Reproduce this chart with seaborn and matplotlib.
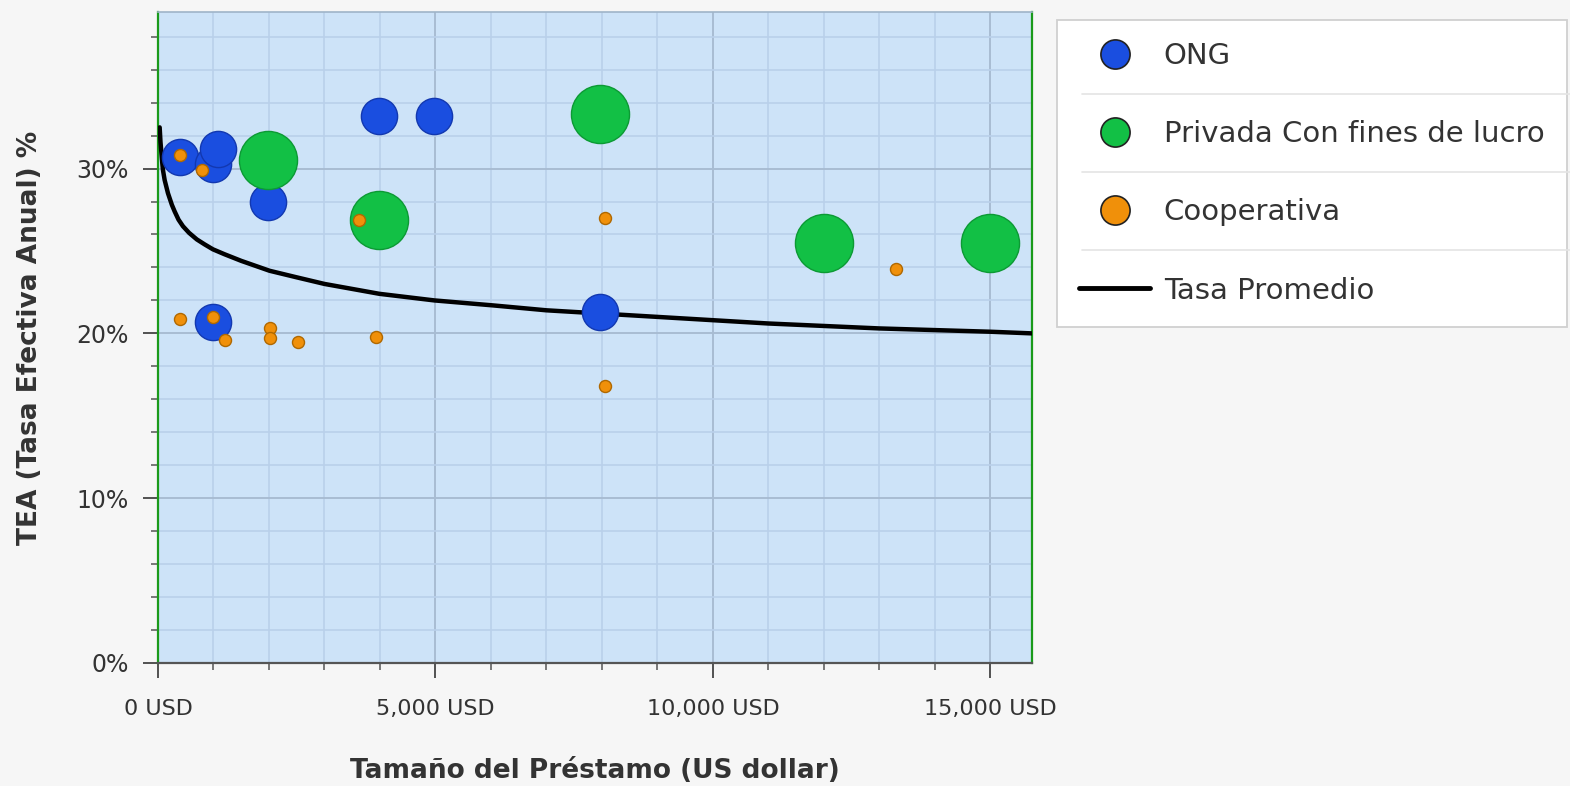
import matplotlib
matplotlib.use("Agg")
import matplotlib.pyplot as plt
import seaborn as sns
from matplotlib.ticker import MultipleLocator, FuncFormatter
from matplotlib.lines import Line2D

# ---------------------- DATA ----------------------
ong_x = [390, 990, 1080, 1980, 3990, 4980, 990, 7970]
ong_y = [30.7, 30.3, 31.2, 28.0, 33.2, 33.2, 20.7, 21.3]

privada_x = [1980, 3990, 7970, 12000, 15000]
privada_y = [30.5, 26.9, 33.3, 25.5, 25.5]

coop_x = [390, 790, 3630, 390, 1000, 1200, 2010, 2010, 2520, 3930, 8050, 8050, 13300]
coop_y = [30.8, 29.9, 26.9, 20.9, 21.0, 19.6, 20.3, 19.7, 19.5, 19.8, 27.0, 16.8, 23.9]

tasa_x = [30, 45, 60, 75, 90, 120, 150, 180, 210, 250, 300, 370, 450, 560, 700, 840, 990,
          1200, 1500, 2010, 2500, 3000, 3990, 4980, 6030, 7000, 8000, 9000, 10000,
          11000, 12000, 13000, 14000, 15000, 15750]
tasa_y = [32.5, 31.6, 31.0, 30.4, 29.9, 29.3, 28.9, 28.5, 28.2, 27.8, 27.4, 26.9, 26.5,
          26.1, 25.7, 25.4, 25.1, 24.8, 24.4, 23.8, 23.4, 23.0, 22.4, 22.0, 21.7, 21.4,
          21.2, 21.0, 20.8, 20.6, 20.45, 20.3, 20.2, 20.1, 20.0]

labels = ["ONG", "Privada Con fines de lucro", "Cooperativa", "Tasa Promedio"]
colors = ["#1a4ee0", "#12c045", "#f0900a", "#000000"]
edges = ["#1238b0", "#0c9a34", "#b06800"]

# ---------------------- PLOT ----------------------
sns.set_theme(style="white")
plt.rcParams["font.family"] = ["DejaVu Sans"]

fig = plt.figure(figsize=(15.7, 7.86), dpi=100, facecolor="#f6f6f6")
ax = fig.add_axes([158 / 1570, 1 - 663 / 786, (1032 - 158) / 1570, (663 - 12) / 786])
ax.set_facecolor("#cde3f8")

sns.lineplot(x=tasa_x, y=tasa_y, ax=ax, color="black", linewidth=3.2, zorder=3)

sns.scatterplot(x=ong_x, y=ong_y, ax=ax, s=680, color=colors[0],
                edgecolor=edges[0], linewidth=1, zorder=4)
sns.scatterplot(x=privada_x, y=privada_y, ax=ax, s=1750, color=colors[1],
                edgecolor=edges[1], linewidth=1, zorder=5)
sns.scatterplot(x=coop_x, y=coop_y, ax=ax, s=75, color=colors[2],
                edgecolor=edges[2], linewidth=1, zorder=6)

ax.set_xlim(0, 15750)
ax.set_ylim(0, 39.5)

ax.xaxis.set_major_locator(MultipleLocator(5000))
ax.xaxis.set_minor_locator(MultipleLocator(1000))
ax.yaxis.set_major_locator(MultipleLocator(10))
ax.yaxis.set_minor_locator(MultipleLocator(2))
ax.xaxis.set_major_formatter(FuncFormatter(lambda v, p: f"{int(v):,} USD"))
ax.yaxis.set_major_formatter(FuncFormatter(lambda v, p: f"{int(v)}%"))

ax.grid(which="major", color="#a8bcd2", linewidth=1.4, zorder=0)
ax.grid(which="minor", color="#b9d0ea", linewidth=1.2, zorder=0)
ax.set_axisbelow(True)

ax.tick_params(which="major", direction="out", length=11, width=1.3, color="#444444",
               labelsize=16, labelcolor="#333333", left=True, bottom=True)
ax.tick_params(axis="y", which="major", labelsize=17, pad=10)
ax.tick_params(axis="x", which="major", pad=15)
ax.tick_params(which="minor", direction="out", length=5, width=1.1, color="#555555",
               left=True, bottom=True)

for side in ["left", "right"]:
    ax.spines[side].set_color("#1a9a1a")
    ax.spines[side].set_linewidth(1.6)
ax.spines["top"].set_color("#9fb4c8")
ax.spines["top"].set_linewidth(1.2)
ax.spines["bottom"].set_color("#555555")
ax.spines["bottom"].set_linewidth(1.6)

ax.set_xlabel("Tamaño del Préstamo (US dollar)", fontsize=19, fontweight="bold",
              color="#333333", labelpad=28)
ax.set_ylabel("TEA (Tasa Efectiva Anual) %", fontsize=19, fontweight="bold",
              color="#333333", labelpad=24)

# ---------------------- LEGEND ----------------------
handles = [
    Line2D([], [], marker="o", linestyle="none", markersize=21,
           markerfacecolor=c, markeredgecolor="#222222", markeredgewidth=1.2)
    for c in colors[:3]
]
handles.append(Line2D([], [], color="black", linewidth=3.5))
leg = fig.legend(handles, labels, loc="upper left",
                 bbox_to_anchor=(1057 / 1570, 1 - 20 / 786), borderaxespad=0,
                 fontsize=21, frameon=True, fancybox=False, edgecolor="#d0d0d0",
                 facecolor="white", framealpha=1, labelspacing=1.72,
                 handlelength=2.43, handletextpad=0.47, borderpad=0.76,
                 labelcolor="#333333")
leg.get_frame().set_linewidth(1.3)

# separators between legend rows
for yy in [94, 172, 250]:
    fig.add_artist(Line2D([1082 / 1570, 1], [1 - yy / 786, 1 - yy / 786],
                          color="#e4e4e4", linewidth=1.2, zorder=10))

fig.savefig("out.png", dpi=100, facecolor=fig.get_facecolor())
